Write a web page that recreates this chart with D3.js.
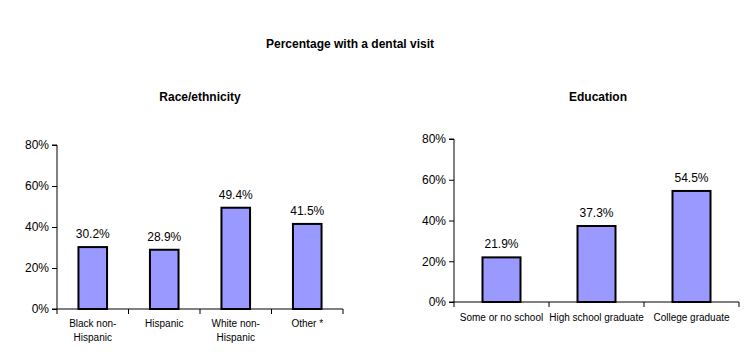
<!DOCTYPE html>
<html>
<head>
<meta charset="utf-8">
<script src="https://cdn.jsdelivr.net/npm/d3@7"></script>
<style>
  body { margin: 0; background: #fff; }
  svg { font-family: "Liberation Sans", Arial, sans-serif; }
  .domain, .tick line { stroke: #000; }
</style>
</head>
<body>
<div id="chart"></div>
<script>
var svgWidth = 754;
var svgHeight = 354;

// data
var raceCats = ["Black non-Hispanic", "Hispanic", "White non-Hispanic", "Other *"];
var raceLabels = [["Black non-", "Hispanic"], ["Hispanic"], ["White non-", "Hispanic"], ["Other *"]];
var raceValues = [30.2, 28.9, 49.4, 41.5];

var eduCats = ["Some or no school", "High school graduate", "College graduate"];
var eduLabels = [["Some or no school"], ["High school graduate"], ["College graduate"]];
var eduValues = [21.9, 37.3, 54.5];

var yTicks = [0, 20, 40, 60, 80];

var svg = d3.select("#chart")
    .append("svg")
    .attr("width", svgWidth)
    .attr("height", svgHeight);

svg.append("text")
  .attr("x", 350)
  .attr("y", 48)
  .attr("text-anchor", "middle")
  .attr("font-size", "12px")
  .attr("font-weight", "bold")
  .text("Percentage with a dental visit");

function drawPanel(opts) {
  var g = svg.append("g")
    .attr("transform", `translate(${opts.left}, ${opts.top})`);

  var x = d3.scaleBand()
    .domain(opts.cats)
    .range([0, opts.width])
    .paddingInner(0.6)
    .paddingOuter(0.3);

  var y = d3.scaleLinear()
    .domain([0, 80])
    .range([opts.height, 0]);

  svg.append("text")
    .attr("x", opts.titleX)
    .attr("y", 101)
    .attr("text-anchor", "middle")
    .attr("font-size", "12px")
    .attr("font-weight", "bold")
    .text(opts.title);

  // y axis
  g.append("g")
    .call(d3.axisLeft(y).tickValues(yTicks).tickSize(5).tickFormat(d => d + "%"))
    .call(a => a.selectAll("text").attr("font-size", "12px").attr("fill", "#000").attr("font-family", "Liberation Sans, Arial, sans-serif"))
    .call(a => a.select(".domain").attr("d", `M-5,0H0V${opts.height}H-5`));

  // x axis with ticks at band boundaries
  var bounds = opts.cats.map((c, i) => i * opts.width / opts.cats.length).concat([opts.width]);
  var xa = g.append("g").attr("transform", `translate(0, ${opts.height})`);
  xa.append("line").attr("x1", 0).attr("x2", opts.width).attr("stroke", "#000");
  xa.selectAll("line.tk").data(bounds).enter().append("line")
    .attr("class", "tk")
    .attr("x1", d => d).attr("x2", d => d)
    .attr("y1", 0).attr("y2", 5)
    .attr("stroke", "#000");

  var lbl = xa.selectAll("text.lbl").data(opts.cats).enter().append("text")
    .attr("class", "lbl")
    .attr("text-anchor", "middle")
    .attr("font-size", opts.labelSize)
    .attr("y", opts.labelY);
  lbl.selectAll("tspan").data((d, i) => opts.labels[i].map(t => ({ t: t, c: d }))).enter()
    .append("tspan")
    .attr("x", d => x(d.c) + x.bandwidth() / 2)
    .attr("dy", (d, i) => i === 0 ? 0 : 14)
    .text(d => d.t);

  // bars
  g.selectAll("rect").data(opts.values).enter().append("rect")
    .attr("x", (d, i) => x(opts.cats[i]))
    .attr("y", d => y(d))
    .attr("width", x.bandwidth())
    .attr("height", d => opts.height - y(d))
    .attr("fill", "#9999FF")
    .attr("stroke", "#000")
    .attr("stroke-width", 2);

  g.selectAll("text.val").data(opts.values).enter().append("text")
    .attr("class", "val")
    .attr("x", (d, i) => x(opts.cats[i]) + x.bandwidth() / 2)
    .attr("y", d => y(d) - 9)
    .attr("text-anchor", "middle")
    .attr("font-size", "12px")
    .text(d => d.toFixed(1) + "%");
}

drawPanel({
  left: 57, top: 145, width: 286, height: 164,
  cats: raceCats, labels: raceLabels, values: raceValues,
  title: "Race/ethnicity", titleX: 200,
  labelSize: "10px", labelY: 18
});

drawPanel({
  left: 454, top: 139, width: 285, height: 163,
  cats: eduCats, labels: eduLabels, values: eduValues,
  title: "Education", titleX: 598,
  labelSize: "10px", labelY: 19
});
</script>
</body>
</html>
